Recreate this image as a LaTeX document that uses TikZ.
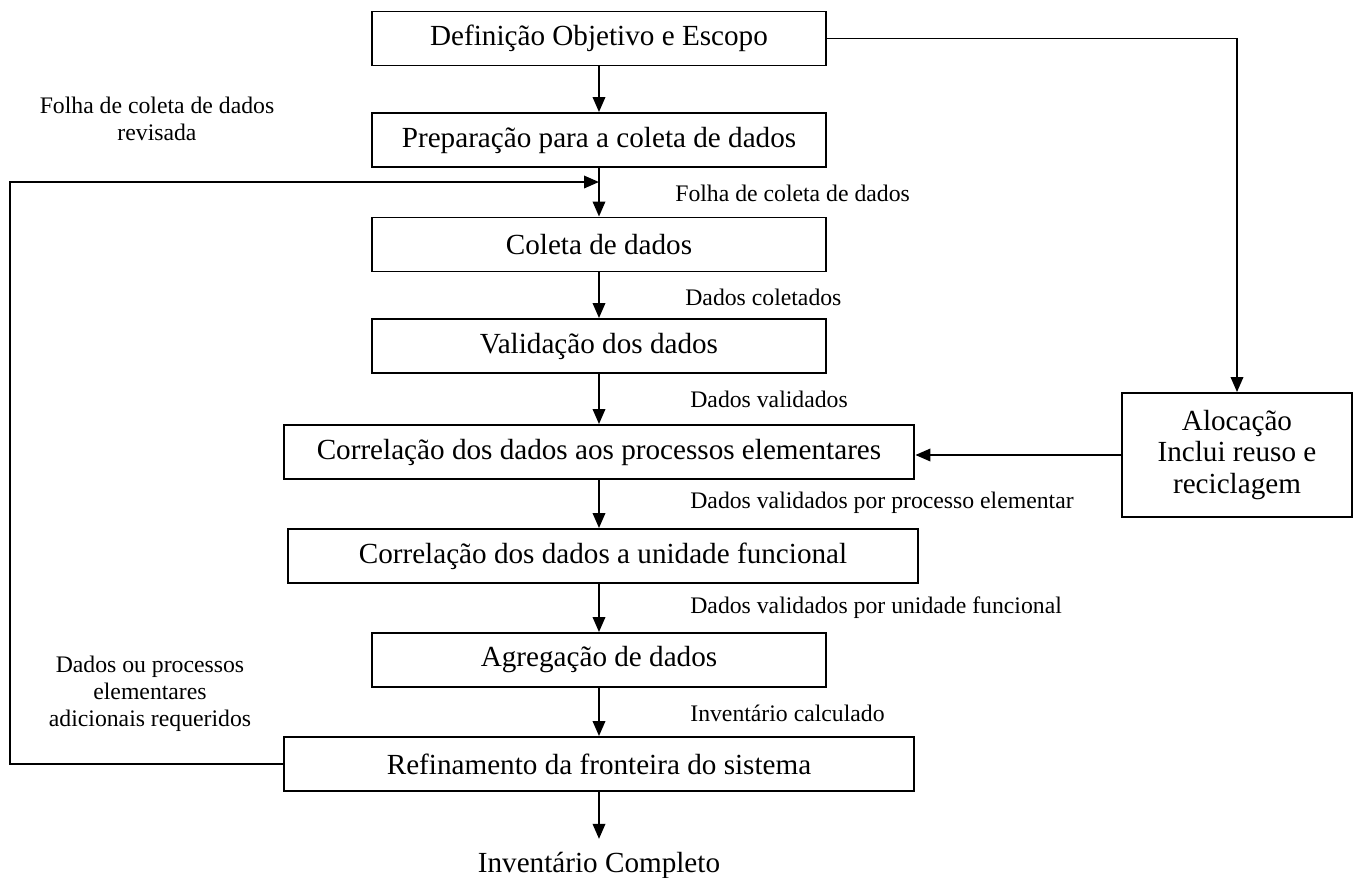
\documentclass[tikz,border=0pt]{standalone}
\usepackage{fontspec}
\setmainfont{Liberation Serif}
\usetikzlibrary{arrows.meta}

\begin{document}
\begin{tikzpicture}[x=0.02cm, y=-0.02cm,
	box/.style={draw, line width=1.1pt, inner sep=0pt, minimum height=1.08cm, font=\fontsize{16.6}{18.2}\selectfont},
	lbl/.style={inner sep=0pt, font=\fontsize{13.5}{15.4}\selectfont},
	arr/.style={line width=1.1pt, -{Triangle[length=0.3cm,width=0.25cm]}},
	lin/.style={line width=1.1pt}]
			%%%%% START %%%%%
			
			\useasboundingbox (0, 0) rectangle (1357, 877);
			
			\node[box, minimum width=9.08cm] (defin) at (599, 38.5) {Definição Objetivo e Escopo};
			\node[box, minimum width=9.1cm] (prep) at (599, 140) {Preparação para a coleta de dados};
			\node[box, minimum width=9.1cm] (colet) at (599, 244.5) {Coleta de dados};
			\node[box, minimum width=9.1cm] (valid) at (599, 346) {Validação dos dados};
			\node[box, minimum width=12.62cm] (corrproc) at (599, 452) {Correlação dos dados aos processos elementares};
			\node[box, minimum width=12.6cm] (corrunid) at (603, 556) {Correlação dos dados a unidade funcional};
			\node[box, minimum width=9.1cm] (agreg) at (599, 660) {Agregação de dados};
			\node[box, minimum width=12.62cm] (refin) at (599, 764) {Refinamento da fronteira do sistema};
			\node[box, minimum width=4.6cm, minimum height=2.48cm, align=center] (aloc) at (1237, 455) {Alocação\\Inclui reuso e\\reciclagem};
			\node[inner sep=0.25cm, anchor=base, font=\fontsize{16.6}{18.2}\selectfont] (invent) at (599, 872) {Inventário Completo};
			
			\coordinate (revis) at (599, 182);
			
			\draw[arr] (defin) -- (prep);
			\draw[arr] (prep) -- (colet);
			\draw[arr] (colet) -- (valid);
			\draw[arr] (valid) -- (corrproc);
			\draw[arr] (corrproc.south) -- (corrproc.south |- corrunid.north);
			\draw[arr] (corrproc.south |- corrunid.south) -- (agreg);
			\draw[arr] (agreg) -- (refin);
			\draw[arr] (refin) -- (invent);
			
			\draw[arr] (defin.east) -| (aloc.north);
			\draw[arr] (aloc.west) -- (aloc.west -| corrproc.east);
			\draw[arr] (refin.west) -- ++(-273, 0) |- (revis);
			
			\node[lbl, anchor=west] (l1) at (675, 193) {Folha de coleta de dados};
			\node[lbl, anchor=west] (l2) at (685, 297) {Dados coletados};
			\node[lbl, anchor=west] (l3) at (690, 399) {Dados validados};
			\node[lbl, anchor=west] (l4) at (690, 503) {Dados validados por processo elementar};
			\node[lbl, anchor=west] (l5) at (690, 608) {Dados validados por unidade funcional};
			\node[lbl, anchor=west] (l6) at (690, 713) {Inventário calculado};
			\node[lbl, align=center] (l7) at (157, 119) {Folha de coleta de dados\\revisada};
			\node[lbl, align=center] (l8) at (150, 694) {Dados ou processos\\elementares\\adicionais requeridos};
			
			%%%%% END %%%%%
\end{tikzpicture}
\end{document}
